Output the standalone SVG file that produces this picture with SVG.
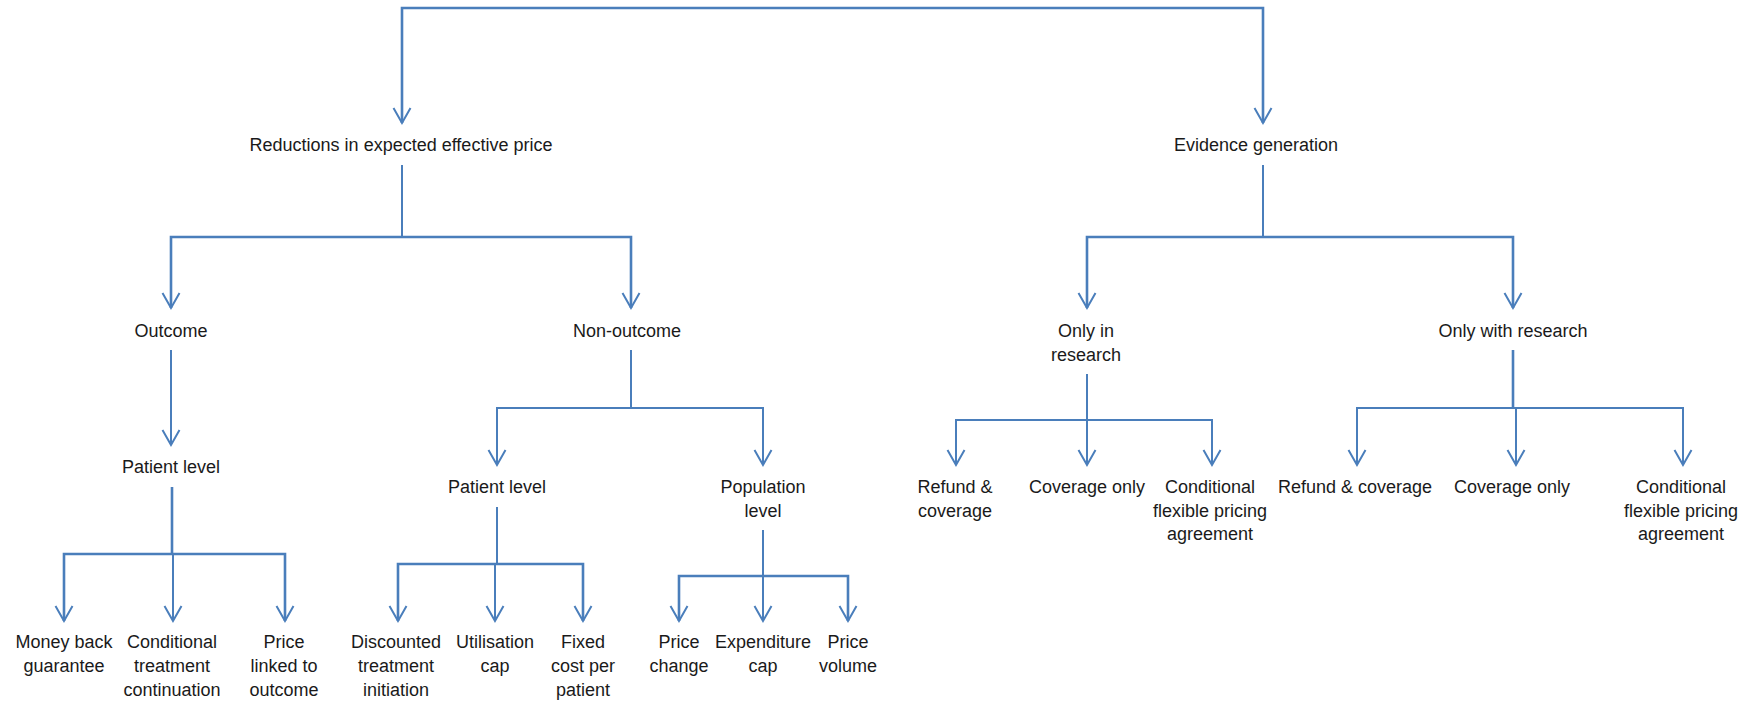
<svg xmlns="http://www.w3.org/2000/svg" width="1756" height="704" viewBox="0 0 1756 704">
<style>
.c{fill:none;stroke:#4A7EBB;stroke-width:2}
.b{stroke-width:2.6}
.t{font-family:"Liberation Sans",Arial,sans-serif;font-size:18px;fill:#1a1a1a;text-anchor:middle}
</style>
<defs>
<marker id="ah" markerUnits="userSpaceOnUse" orient="auto" refX="0" refY="0" markerWidth="20" markerHeight="20" overflow="visible">
<path d="M-15,-8.5 L0,0 L-15,8.5" fill="none" stroke="#4A7EBB" stroke-width="2"/>
</marker>
</defs>
<rect width="1756" height="704" fill="#fff"/>
<g id="connectors">
<path class="c b" d="M832,8 H402 V123" marker-end="url(#ah)"/>
<path class="c b" d="M832,8 H1263 V123" marker-end="url(#ah)"/>
<path class="c" d="M733,8 H997" stroke-width="3.2"/>
<path class="c" d="M402,165 V237"/>
<path class="c b" d="M402,237 H171 V308" marker-end="url(#ah)"/>
<path class="c b" d="M402,237 H631 V308" marker-end="url(#ah)"/>
<path class="c" d="M1263,165 V237"/>
<path class="c b" d="M1263,237 H1087 V308" marker-end="url(#ah)"/>
<path class="c b" d="M1263,237 H1513 V308" marker-end="url(#ah)"/>
<path class="c" d="M171,350 V445" marker-end="url(#ah)"/>
<path class="c b" d="M172,487 V554"/>
<path class="c b" d="M172,554 H64 V621" marker-end="url(#ah)"/>
<path class="c b" d="M172,554 H285 V621" marker-end="url(#ah)"/>
<path class="c" d="M173,554 V621" marker-end="url(#ah)"/>
<path class="c" d="M631,350 V408"/>
<path class="c" d="M631,408 H497 V465" marker-end="url(#ah)"/>
<path class="c" d="M631,408 H763 V465" marker-end="url(#ah)"/>
<path class="c" d="M497,507 V564"/>
<path class="c b" d="M497,564 H398 V621" marker-end="url(#ah)"/>
<path class="c b" d="M497,564 H583 V621" marker-end="url(#ah)"/>
<path class="c" d="M495,564 V621" marker-end="url(#ah)"/>
<path class="c" d="M763,530 V576"/>
<path class="c b" d="M763,576 H679 V621" marker-end="url(#ah)"/>
<path class="c b" d="M763,576 H848 V621" marker-end="url(#ah)"/>
<path class="c" d="M763,576 V621" marker-end="url(#ah)"/>
<path class="c" d="M1087,374 V420"/>
<path class="c" d="M1087,420 H956 V465" marker-end="url(#ah)"/>
<path class="c" d="M1087,420 H1212 V465" marker-end="url(#ah)"/>
<path class="c" d="M1087,420 V465" marker-end="url(#ah)"/>
<path class="c b" d="M1513,350 V408"/>
<path class="c" d="M1513,408 H1357 V465" marker-end="url(#ah)"/>
<path class="c" d="M1513,408 H1683 V465" marker-end="url(#ah)"/>
<path class="c" d="M1516,408 V465" marker-end="url(#ah)"/>
</g>
<g id="n-reductions"><text class="t" x="401" y="151">Reductions in expected effective price</text></g>
<g id="n-evidence"><text class="t" x="1256" y="151">Evidence generation</text></g>
<g id="n-outcome"><text class="t" x="171" y="337">Outcome</text></g>
<g id="n-nonoutcome"><text class="t" x="627" y="337">Non-outcome</text></g>
<g id="n-onlyin"><text class="t" x="1086" y="337">Only in</text><text class="t" x="1086" y="361">research</text></g>
<g id="n-onlywith"><text class="t" x="1513" y="337">Only with research</text></g>
<g id="n-patient1"><text class="t" x="171" y="473">Patient level</text></g>
<g id="n-patient2"><text class="t" x="497" y="493">Patient level</text></g>
<g id="n-population"><text class="t" x="763" y="493">Population</text><text class="t" x="763" y="516.5">level</text></g>
<g id="n-moneyback"><text class="t" x="64" y="648">Money back</text><text class="t" x="64" y="672">guarantee</text></g>
<g id="n-condtreat"><text class="t" x="172" y="648">Conditional</text><text class="t" x="172" y="672">treatment</text><text class="t" x="172" y="696">continuation</text></g>
<g id="n-pricelinked"><text class="t" x="284" y="648">Price</text><text class="t" x="284" y="672">linked to</text><text class="t" x="284" y="696">outcome</text></g>
<g id="n-discounted"><text class="t" x="396" y="648">Discounted</text><text class="t" x="396" y="672">treatment</text><text class="t" x="396" y="696">initiation</text></g>
<g id="n-utilisation"><text class="t" x="495" y="648">Utilisation</text><text class="t" x="495" y="672">cap</text></g>
<g id="n-fixedcost"><text class="t" x="583" y="648">Fixed</text><text class="t" x="583" y="672">cost per</text><text class="t" x="583" y="696">patient</text></g>
<g id="n-pricechange"><text class="t" x="679" y="648">Price</text><text class="t" x="679" y="672">change</text></g>
<g id="n-expenditure"><text class="t" x="763" y="648">Expenditure</text><text class="t" x="763" y="672">cap</text></g>
<g id="n-pricevolume"><text class="t" x="848" y="648">Price</text><text class="t" x="848" y="672">volume</text></g>
<g id="n-refund1"><text class="t" x="955" y="493">Refund &amp;</text><text class="t" x="955" y="516.5">coverage</text></g>
<g id="n-coverage1"><text class="t" x="1087" y="493">Coverage only</text></g>
<g id="n-condflex1"><text class="t" x="1210" y="493">Conditional</text><text class="t" x="1210" y="516.5">flexible pricing</text><text class="t" x="1210" y="540">agreement</text></g>
<g id="n-refund2"><text class="t" x="1355" y="493">Refund &amp; coverage</text></g>
<g id="n-coverage2"><text class="t" x="1512" y="493">Coverage only</text></g>
<g id="n-condflex2"><text class="t" x="1681" y="493">Conditional</text><text class="t" x="1681" y="516.5">flexible pricing</text><text class="t" x="1681" y="540">agreement</text></g>
</svg>
